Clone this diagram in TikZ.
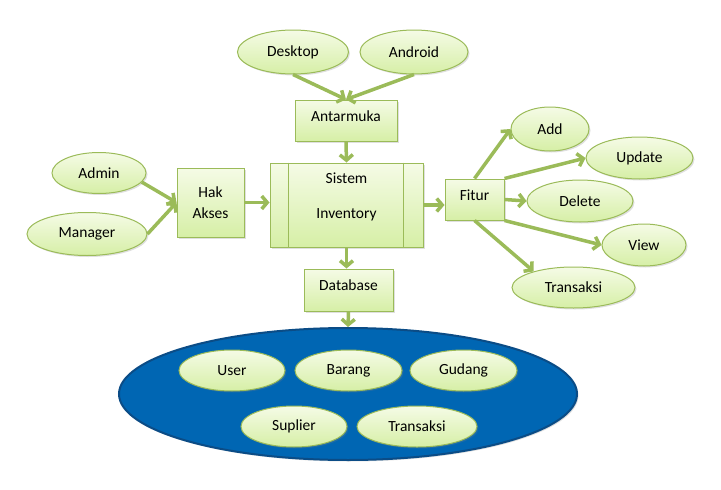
\documentclass[tikz,border=0pt]{standalone}
\usepackage{fontspec}
\setmainfont{Carlito}
\usetikzlibrary{shapes.geometric,arrows.meta,shadows}
\definecolor{gborder}{HTML}{9BBB59}
\definecolor{gtop}{HTML}{F5FBE6}
\definecolor{gbot}{HTML}{D6EFA6}
\definecolor{dbfill}{HTML}{0066B3}
\definecolor{dbdraw}{HTML}{0B4C86}
\begin{document}
\begin{tikzpicture}[x=1pt,y=-1pt,
  font=\fontsize{15.5}{18}\selectfont,
  base/.style={draw=gborder, line width=1pt, top color=gtop, bottom color=gbot,
    drop shadow={opacity=0.25, shadow xshift=1.5pt, shadow yshift=-1.5pt}, inner sep=0pt},
  boxnode/.style={base, rectangle},
  boxtxt/.style={boxnode, text height=10pt, text depth=9pt},
  ell/.style={base, ellipse},
  arr/.style={draw=gborder, line width=3.5pt, -{Straight Barb[length=5.5pt,width=13pt]}}
]
\useasboundingbox (0,0) rectangle (721,490);

% top
\node[ell, minimum width=111, minimum height=44] (desk) at (293,52) {Desktop};
\node[ell, minimum width=108, minimum height=44] (andr) at (414,52) {Android};
\node[boxtxt, minimum width=102, minimum height=41] (ant) at (346,120.5) {Antarmuka};

% left
\node[ell, minimum width=94, minimum height=41] (admin) at (99,173) {Admin};
\node[ell, minimum width=120, minimum height=43] (mgr) at (87,234) {Manager};
\node[boxnode, minimum width=67, minimum height=69, align=center,
  font=\fontsize{15.5}{21}\selectfont] (hak) at (210.5,202.5) {Hak\\Akses};

% center
\node[boxnode, minimum width=153, minimum height=84] (sis) at (346.5,205) {};
\draw[gborder, line width=1pt] (sis.north west) ++(19,0) coordinate (sl1) -- (sl1 |- sis.south);
\draw[gborder, line width=1pt] (sis.north east) ++(-20,0) coordinate (sr1) -- (sr1 |- sis.south);
\node (sist) at (346.5,178) {Sistem};
\node (inv) at (346.5,215) {Inventory};

% right
\node[boxtxt, minimum width=59, minimum height=41] (fit) at (474.5,199.5) {Fitur};
\node[ell, minimum width=78, minimum height=44] (add) at (550,129) {Add};
\node[ell, minimum width=107, minimum height=42] (upd) at (639.5,158) {Update};
\node[ell, minimum width=106, minimum height=42] (del) at (580,201) {Delete};
\node[ell, minimum width=84, minimum height=42] (view) at (644,245) {View};
\node[ell, minimum width=123, minimum height=41] (tr) at (573.5,287.5) {Transaksi};

% bottom
\node[boxtxt, minimum width=89, minimum height=42] (db) at (348.5,290) {Database};
\node[ellipse, draw=dbdraw, fill=dbfill, line width=2pt, minimum width=458, minimum height=132,
  drop shadow={opacity=0.25, shadow xshift=1.5pt, shadow yshift=-1.5pt}] (big) at (348,394) {};
\node[ell, minimum width=106, minimum height=41] (user) at (232,370.5) {User};
\node[ell, minimum width=107, minimum height=41] (bar) at (348.5,370.5) {Barang};
\node[ell, minimum width=107, minimum height=41] (gud) at (463.5,370.5) {Gudang};
\node[ell, minimum width=106, minimum height=41] (sup) at (294,426.5) {Suplier};
\node[ell, minimum width=120, minimum height=41] (tr2) at (417,426.5) {Transaksi};

% arrows
\draw[arr] (desk.south) -- (ant.north);
\draw[arr] (andr.south) -- (ant.north);
\draw[arr] (ant.south) -- (sis.north);
\draw[arr] (admin.-12) -- (hak.west);
\draw[arr] (mgr.east) -- (hak.west);
\draw[arr] (hak.east) -- (hak.east -| sis.west);
\draw[arr] (sis.east) -- (sis.east -| fit.west);
\draw[arr] (fit.north) -- (add.west);
\draw[arr] (fit.north east) -- (upd.west);
\draw[arr] (fit.east) -- (del.west);
\draw[arr] (fit.south east) -- (view.west);
\draw[arr] (fit.south) -- (tr.158);
\draw[arr] (sis.south) -- (sis.south |- db.north);
\draw[arr] (db.south) -- (big.north);
\end{tikzpicture}
\end{document}
